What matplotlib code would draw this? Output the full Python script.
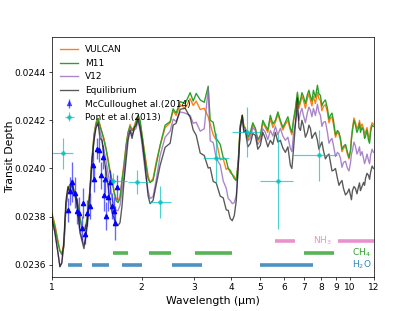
import numpy as np
import matplotlib
matplotlib.use("Agg")
import matplotlib.pyplot as plt
from matplotlib.ticker import FixedLocator, NullLocator, FormatStrFormatter

# wavelength grid of the model spectra (micron)
wl = [1.000, 1.024, 1.048, 1.064, 1.080, 1.097, 1.115, 1.132, 1.150, 1.168,
      1.186, 1.204, 1.223, 1.242, 1.262, 1.281, 1.301, 1.322, 1.342, 1.363,
      1.385, 1.406, 1.428, 1.450, 1.473, 1.496, 1.519, 1.543, 1.567, 1.592,
      1.617, 1.642, 1.667, 1.693, 1.720, 1.747, 1.774, 1.802, 1.830, 1.858,
      1.887, 1.917, 1.947, 1.977, 2.008, 2.055, 2.102, 2.135, 2.185, 2.237,
      2.308, 2.399, 2.494, 2.552, 2.612, 2.694, 2.801, 2.911, 2.980, 3.050,
      3.146, 3.245, 3.346, 3.398, 3.478, 3.560, 3.672, 3.758, 3.846, 3.906,
      3.967, 4.030, 4.093, 4.157, 4.222, 4.287,
      4.354, 4.405, 4.457, 4.544, 4.633, 4.723, 4.816, 4.909, 5.006, 5.103,
      5.203, 5.304, 5.408, 5.514, 5.622, 5.732, 5.844, 5.957, 6.074, 6.193,
      6.314, 6.388, 6.463, 6.563, 6.667, 6.744, 6.823, 6.902, 6.982, 7.091,
      7.203, 7.286, 7.370, 7.457, 7.544, 7.660, 7.781, 7.870, 7.963, 8.055,
      8.150, 8.277, 8.406, 8.507, 8.604, 8.707, 8.806, 8.946, 9.085, 9.192,
      9.298, 9.406, 9.517, 9.665, 9.815, 9.931, 10.05, 10.12, 10.20, 10.32,
      10.44, 10.56, 10.69, 10.77, 10.85, 10.98, 11.11, 11.20, 11.28, 11.41,
      11.55, 11.64, 11.73, 11.87, 12.0]

# transit depth in ppm
vulcan = [23817, 23767, 23700, 23658, 23650, 23683, 23846, 23917, 23933, 23942,
          23908, 23892, 23850, 23800, 23758, 23742, 23767, 23825, 23917, 24042,
          24142, 24192, 24208, 24183, 24150, 24125, 24083, 24042, 23992, 23950,
          23908, 23875, 23867, 23883, 23958, 24025, 24096, 24150, 24183, 24158,
          24175, 24200, 24221, 24192, 24138, 24054, 23971, 23942, 23958, 24025,
          24096, 24170, 24190, 24240, 24220, 24265, 24250, 24290, 24262, 24280,
          24245, 24250, 24215, 24185, 24140, 24118, 24036, 24040, 23996, 24002,
          23983, 23975, 23967, 23950, 24033, 24179,
          24221, 24180, 24167, 24120, 24142, 24180, 24167, 24115, 24129, 24190,
          24171, 24150, 24208, 24170, 24192, 24225, 24192, 24160, 24183, 24200,
          24158, 24140, 24192, 24240, 24308, 24250, 24271, 24300, 24283, 24250,
          24292, 24310, 24283, 24260, 24300, 24270, 24317, 24290, 24283, 24240,
          24258, 24265, 24233, 24190, 24208, 24215, 24183, 24130, 24150, 24140,
          24117, 24070, 24083, 24095, 24058, 24040, 24075, 24130, 24167, 24210,
          24192, 24165, 24179, 24200, 24167, 24185, 24167, 24140, 24150, 24170,
          24133, 24115, 24167, 24190, 24183]

m11 = [23808, 23758, 23692, 23658, 23642, 23675, 23846, 23908, 23933, 23942,
       23908, 23883, 23846, 23792, 23750, 23742, 23758, 23817, 23908, 24033,
       24138, 24183, 24208, 24175, 24150, 24117, 24083, 24033, 23983, 23950,
       23900, 23867, 23858, 23875, 23950, 24013, 24096, 24150, 24175, 24158,
       24167, 24192, 24221, 24200, 24138, 24042, 23958, 23942, 23950, 24013,
       24096, 24180, 24195, 24248, 24230, 24278, 24270, 24315, 24280, 24312,
       24285, 24275, 24342, 24200, 24192, 24125, 24100, 24045, 24036, 24000,
       23992, 23975, 23958, 23950, 24033, 24179,
       24221, 24175, 24167, 24130, 24150, 24190, 24167, 24120, 24138, 24200,
       24179, 24160, 24221, 24185, 24200, 24235, 24200, 24170, 24192, 24215,
       24167, 24150, 24200, 24250, 24317, 24265, 24283, 24315, 24300, 24270,
       24308, 24325, 24300, 24280, 24325, 24295, 24346, 24310, 24304, 24260,
       24275, 24285, 24250, 24205, 24221, 24230, 24200, 24140, 24158, 24150,
       24125, 24080, 24092, 24100, 24067, 24045, 24075, 24120, 24158, 24200,
       24179, 24150, 24167, 24190, 24150, 24170, 24158, 24125, 24133, 24160,
       24117, 24105, 24150, 24180, 24175]

v12 = [23796, 23733, 23650, 23592, 23608, 23679, 23846, 23908, 23917, 23933,
       23892, 23875, 23817, 23750, 23708, 23683, 23717, 23792, 23888, 24013,
       24125, 24179, 24183, 24158, 24117, 24075, 24033, 23983, 23929, 23875,
       23846, 23825, 23825, 23846, 23908, 23971, 24075, 24138, 24167, 24138,
       24158, 24167, 24200, 24158, 24096, 23992, 23908, 23875, 23883, 23950,
       24054, 24130, 24155, 24205, 24195, 24235, 24230, 24220, 24188, 24192,
       24155, 24165, 24333, 24115, 24108, 24042, 24015, 23948, 23918, 23875,
       23867, 23854, 23858, 23888, 24013, 24167,
       24208, 24160, 24167, 24115, 24125, 24170, 24158, 24100, 24117, 24165,
       24150, 24120, 24158, 24135, 24175, 24140, 24167, 24135, 24117, 24130,
       24083, 24070, 24138, 24190, 24242, 24200, 24233, 24250, 24221, 24190,
       24233, 24255, 24242, 24215, 24250, 24220, 24267, 24235, 24221, 24175,
       24192, 24195, 24150, 24105, 24117, 24125, 24096, 24050, 24067, 24060,
       24042, 24005, 24025, 24030, 24000, 23990, 24025, 24060, 24075, 24110,
       24092, 24060, 24075, 24090, 24054, 24070, 24042, 24020, 24033, 24060,
       24033, 24020, 24054, 24080, 24067]

equil = [23792, 23733, 23650, 23592, 23608, 23700, 23867, 23925, 23900, 23950,
         23900, 23883, 23817, 23733, 23700, 23667, 23721, 23804, 23908, 24033,
         24117, 24167, 24192, 24125, 24117, 24042, 23992, 23929, 23867, 23817,
         23792, 23775, 23763, 23775, 23846, 23950, 24033, 24117, 24158, 24125,
         24167, 24179, 24208, 24167, 24117, 24013, 23888, 23854, 23867, 23929,
         24013, 24088, 24105, 24180, 24188, 24246, 24250, 24212, 24160, 24138,
         24064, 24054, 24002, 24004, 23946, 23940, 23885, 23878, 23828, 23826,
         23792, 23783, 23804, 23867, 24013, 24167,
         24221, 24150, 24158, 24090, 24104, 24145, 24138, 24080, 24096, 24150,
         24125, 24090, 24117, 24100, 24150, 24110, 24117, 24085, 24067, 24090,
         24013, 24000, 24075, 24180, 24292, 24170, 24158, 24200, 24179, 24130,
         24150, 24180, 24167, 24125, 24138, 24150, 24117, 24080, 24096, 24110,
         24075, 24040, 24054, 24060, 24025, 23990, 23992, 24000, 23958, 23930,
         23942, 23950, 23917, 23890, 23900, 23915, 23888, 23870, 23908, 23925,
         23917, 23895, 23925, 23940, 23908, 23925, 23942, 23930, 23958, 23980,
         23971, 23955, 23983, 24010, 24000]

# McCullough et al. (2014)
mc_wl = [1.132, 1.150, 1.168, 1.192, 1.214, 1.235, 1.259, 1.271, 1.288, 1.311,
         1.345, 1.370, 1.388, 1.414, 1.436, 1.465, 1.479, 1.496, 1.511, 1.522,
         1.547, 1.570, 1.592, 1.613, 1.633, 1.654]
mc_depth = [23829, 23908, 23942, 23900, 23825, 23817, 23754, 23858, 23729, 23813,
            23846, 24013, 23958, 24083, 24075, 23971, 24046, 23888, 23958, 23804,
            23883, 23942, 23846, 23825, 23775, 23925]
mc_err = [50, 58, 83, 63, 54, 63, 50, 63, 42, 54,
          54, 54, 54, 42, 50, 58, 50, 63, 58, 58,
          58, 50, 54, 58, 71, 50]

# Pont et al. (2013)
pont_wl = [0.93, 1.091, 1.604, 1.936, 2.308, 3.56, 4.516, 5.72, 7.90]
pont_wl_lo = [0.08, 0.091, 0.135, 0.136, 0.188, 0.34, 0.496, 0.714, 1.49]
pont_wl_hi = [0.08, 0.089, 0.184, 0.166, 0.199, 0.355, 0.490, 0.71, 1.16]
pont_depth = [24192, 24063, 23950, 23943, 23860, 24043, 24151, 23946, 24054]
pont_err = [60, 65, 33, 50, 66, 104, 104, 196, 104]

# absorption bands
h2o_bands = [(1.132, 1.261), (1.363, 1.555), (1.719, 2.007), (2.53, 3.19), (5.0, 7.54)]
ch4_bands = [(1.60, 1.80), (2.12, 2.51), (3.02, 4.03), (7.04, 8.83)]
nh3_bands = [(5.62, 6.52), (9.1, 12.5)]

ppm = 1e-6

fig, ax = plt.subplots(figsize=(415 / 65, 311 / 65), dpi=65)

wl = np.array(wl)
ax.plot(wl, np.array(vulcan) * ppm, color='C1', lw=1.5, label='VULCAN')
ax.plot(wl, np.array(m11) * ppm, color='C2', lw=1.5, label='M11')
ax.plot(wl, np.array(v12) * ppm, color='C4', lw=1.5, alpha=0.8, label='V12')
ax.plot(wl, np.array(equil) * ppm, color='k', lw=1.5, alpha=0.65, label='Equilibrium')

ax.errorbar(mc_wl, np.array(mc_depth) * ppm, yerr=np.array(mc_err) * ppm,
            fmt='^', color='b', ms=5, ecolor='b', elinewidth=1.5, alpha=0.6,
            label='McCulloughet al.(2014)')
ax.plot(mc_wl, np.array(mc_depth) * ppm, '^', color='b', ms=5)
ax.errorbar(pont_wl, np.array(pont_depth) * ppm, yerr=np.array(pont_err) * ppm,
            xerr=[pont_wl_lo, pont_wl_hi], fmt='o', color='c', ms=4,
            elinewidth=1.3, alpha=0.7, label='Pont et al.(2013)')

for a, b in h2o_bands:
    ax.plot([a, b], [0.0236, 0.0236], color='C0', lw=4, alpha=0.8, solid_capstyle='butt')
for a, b in ch4_bands:
    ax.plot([a, b], [0.02365, 0.02365], color='C2', lw=4, alpha=0.8, solid_capstyle='butt')
for a, b in nh3_bands:
    ax.plot([a, b], [0.0237, 0.0237], color='C6', lw=4, alpha=0.8, solid_capstyle='butt')

ax.text(7.5, 0.0237, 'NH$_3$', color='C6', alpha=0.8, va='center', ha='left')
ax.text(10.2, 0.02365, 'CH$_4$', color='C2', va='center', ha='left')
ax.text(10.2, 0.0236, 'H$_2$O', color='C0', alpha=0.9, va='center', ha='left')

ax.set_xscale('log')
ax.set_xlim(1, 12)
ax.set_ylim(0.02355, 0.024545)
xt = [1, 2, 3, 4, 5, 6, 7, 8, 9, 10, 12]
ax.xaxis.set_major_locator(FixedLocator(xt))
ax.xaxis.set_minor_locator(NullLocator())
ax.set_xticklabels([str(t) for t in xt])
ax.set_yticks([0.0236, 0.0238, 0.0240, 0.0242, 0.0244])
ax.yaxis.set_major_formatter(FormatStrFormatter('%.4f'))

ax.set_xlabel('Wavelength (μm)', fontsize=12)
ax.set_ylabel('Transit Depth', fontsize=12, labelpad=-1.5)
ax.legend(loc='upper left', frameon=False)

fig.savefig('out.png', dpi=65)
